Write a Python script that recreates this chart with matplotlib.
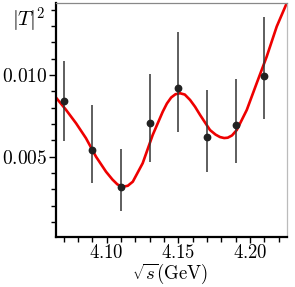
import numpy as np
import matplotlib
matplotlib.use("Agg")
import matplotlib.pyplot as plt
from matplotlib.ticker import MultipleLocator, FuncFormatter

plt.rcParams['mathtext.fontset'] = 'cm'
plt.rcParams['font.family'] = 'serif'
plt.rcParams['font.serif'] = ['DejaVu Serif']

# measured points with asymmetric errors
energy = [4.07, 4.09, 4.11, 4.13, 4.15, 4.17, 4.19, 4.21]
t2 = [0.00843, 0.00543, 0.00313, 0.00704, 0.00922, 0.00619, 0.00692, 0.00996]
err_up = [0.00245, 0.00273, 0.00234, 0.00302, 0.00339, 0.00289, 0.00282, 0.00361]
err_down = [0.00247, 0.00204, 0.00143, 0.00236, 0.00269, 0.00211, 0.00229, 0.00267]

# fitted curve
fit_x = [4.0646, 4.0716, 4.0786, 4.0855, 4.0925, 4.0995, 4.1040, 4.1075,
         4.1112, 4.1147, 4.1182, 4.1251, 4.1321, 4.1391, 4.1420, 4.1450,
         4.1480, 4.1512, 4.1545, 4.1582, 4.1617, 4.1652, 4.1721, 4.1760,
         4.1791, 4.1820, 4.1845, 4.1875, 4.1908, 4.1978, 4.2047, 4.2117,
         4.2187, 4.2257]
fit_y = [0.00861, 0.00786, 0.00704, 0.00613, 0.00500, 0.00408, 0.00360, 0.00330,
         0.00316, 0.00322, 0.00347, 0.00460, 0.00633, 0.00775, 0.00825, 0.00862,
         0.00882, 0.00888, 0.00880, 0.00847, 0.00805, 0.00755, 0.00663, 0.00635,
         0.00620, 0.00614, 0.00616, 0.00630, 0.00663, 0.00786, 0.00949, 0.01112,
         0.01296, 0.01439]

fig = plt.figure(figsize=(2.95, 2.87), dpi=100)
ax = fig.add_axes([0.19, 0.175, 0.782, 0.8145])

ax.plot(fit_x, fit_y, color='#ee0000', lw=1.9, zorder=2)
ax.errorbar(energy, t2, yerr=[err_down, err_up], fmt='o', color='#222222',
            ecolor='#333333', elinewidth=1.1, markersize=4.6, capsize=0, zorder=3)

ax.set_xlim(4.0646, 4.2257)
ax.set_ylim(0.0001, 0.0144)

ax.xaxis.set_major_locator(MultipleLocator(0.05))
ax.xaxis.set_minor_locator(MultipleLocator(0.01))
ax.yaxis.set_major_locator(MultipleLocator(0.005))
ax.yaxis.set_minor_locator(MultipleLocator(0.001))
ax.xaxis.set_major_formatter(FuncFormatter(lambda v, p: r'$%.2f$' % v))
ax.yaxis.set_major_formatter(FuncFormatter(lambda v, p: r'$%.3f$' % v))

ax.tick_params(axis='both', which='major', direction='out', length=5, width=1.0,
               labelsize=14, pad=1.5)
ax.tick_params(axis='x', which='major', length=4, pad=1.0, labelsize=13.5)
ax.tick_params(axis='both', which='minor', direction='out', length=3.5, width=1.0)
ax.tick_params(top=False, right=False, which='both')

for side in ['left', 'bottom']:
    ax.spines[side].set_linewidth(1.6)
    ax.spines[side].set_color('black')
ax.spines['top'].set_color('#888888')
ax.spines['top'].set_linewidth(0.9)
ax.spines['right'].set_color('#bbbbbb')
ax.spines['right'].set_linewidth(0.9)

fig.text(0.04, 0.93, r'$|T|^2$', fontsize=15, va='center', ha='left')
fig.text(0.575, 0.004, r'$\sqrt{s}(\mathrm{GeV})$', fontsize=13.5, va='bottom', ha='center')

fig.savefig('out.png', dpi=100)
